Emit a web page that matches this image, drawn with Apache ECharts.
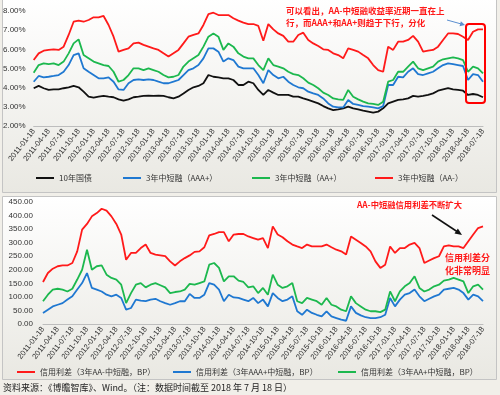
<!DOCTYPE html>
<html><head><meta charset="utf-8">
<script src="https://cdn.jsdelivr.net/npm/echarts@6/dist/echarts.min.js"></script>
<style>html,body{margin:0;padding:0;background:#f1efe9;}#c{width:500px;height:395px;}</style>
</head><body><div id="c"></div>
<script>
// monthly categories 2011-01-18 .. 2018-07-18
const categories = [];
for (let i = 0; i < 91; i++) {
  const y = 2011 + Math.floor(i / 12), m = i % 12 + 1;
  categories.push(y + '-' + String(m).padStart(2, '0') + '-18');
}
const yieldTicks = [2, 3, 4, 5, 6, 7, 8];
const spreadTicks = [0, 50, 100, 150, 200, 250, 300, 350, 400, 450];

// top panel: yields (%)
const gov10y = [3.97,4.09,3.97,3.88,3.91,3.91,3.97,4.02,4.09,4.02,
 3.79,3.53,3.48,3.53,3.57,3.53,3.50,3.39,3.32,3.39,
 3.50,3.53,3.57,3.58,3.57,3.58,3.57,3.50,3.44,3.53,
 3.70,3.88,4.02,4.09,4.23,4.66,4.57,4.54,4.49,4.49,
 4.40,4.14,4.14,4.31,4.23,3.88,3.62,3.88,3.74,3.62,
 3.62,3.62,3.53,3.53,3.44,3.36,3.27,3.18,3.04,2.92,
 2.83,2.87,2.92,3.01,2.92,2.87,2.80,2.75,2.70,2.75,
 2.92,3.18,3.27,3.36,3.39,3.44,3.57,3.53,3.57,3.62,
 3.70,3.84,3.91,3.97,3.91,3.88,3.84,3.62,3.67,3.62,3.50];
const aaaPlus = [4.31,4.61,4.54,4.57,4.61,4.66,4.83,5.18,5.70,5.79,
 5.01,4.83,4.66,4.49,4.49,4.54,4.31,3.91,3.88,4.23,
 4.40,4.43,4.40,4.43,4.40,4.31,4.23,4.23,4.31,4.40,
 4.66,4.92,5.01,5.18,5.53,6.05,6.05,5.88,5.36,5.53,
 5.44,5.10,5.01,5.01,5.01,4.66,4.23,4.92,4.66,4.49,
 4.57,4.31,4.14,4.02,3.97,3.79,3.70,3.62,3.44,3.18,
 3.01,2.97,2.97,3.36,3.15,3.10,3.04,3.01,2.97,2.92,
 3.04,4.14,4.14,4.57,4.54,4.83,5.01,4.71,4.66,4.75,
 4.83,5.01,5.18,5.27,5.23,5.18,5.13,4.40,4.71,4.66,4.31];
const aaPlus = [4.78,5.18,5.27,5.23,5.27,5.18,5.36,5.79,6.31,6.52,
 5.70,5.53,5.36,5.27,5.18,5.13,4.83,4.31,4.40,4.66,
 5.01,5.01,4.92,5.01,4.92,4.83,4.66,4.54,4.57,4.66,
 5.10,5.36,5.53,5.70,6.14,6.66,6.83,6.66,5.97,6.31,
 6.14,5.79,5.62,5.53,5.53,5.18,4.92,5.53,5.18,5.10,
 5.01,4.83,4.71,4.66,4.49,4.26,4.14,3.97,3.74,3.62,
 3.44,3.39,3.36,3.88,3.53,3.39,3.27,3.18,3.15,3.10,
 3.27,4.31,4.40,4.83,4.83,5.10,5.36,5.01,4.92,5.01,
 5.10,5.36,5.48,5.53,5.58,5.53,5.44,4.83,5.10,5.01,4.75];
const aaMinus = [5.44,5.79,5.93,5.97,6.00,5.97,6.14,6.75,7.44,7.50,
 7.44,7.53,7.67,7.67,7.74,7.27,6.66,5.88,5.97,6.05,
 6.31,6.35,6.23,6.14,6.05,5.97,5.79,5.62,5.79,5.97,
 6.31,6.66,6.75,6.83,7.27,7.84,7.91,7.79,7.79,7.79,
 7.62,7.50,7.39,7.32,7.32,7.22,6.45,7.32,7.04,6.83,
 6.70,6.40,6.40,6.75,6.87,6.49,6.31,6.17,6.00,5.97,
 5.79,5.70,5.53,6.05,5.97,5.88,5.70,5.53,5.18,4.92,
 4.83,6.14,5.97,6.40,6.40,6.49,6.70,6.40,5.88,5.93,
 5.97,6.14,6.49,6.83,6.83,6.80,6.66,6.49,6.92,7.04,7.04];

// bottom panel: credit spreads (BP)
const spreadAAMinus = [155,188,204,213,216,216,225,268,348,369,
 397,409,425,418,397,369,330,237,262,262,
 280,293,262,256,253,250,231,216,231,243,
 253,266,268,283,327,332,339,339,305,330,
 332,332,323,317,311,317,280,360,330,320,
 305,293,286,280,293,286,286,286,293,283,
 274,268,256,323,311,299,286,268,231,207,
 219,286,262,280,280,293,299,280,225,234,
 243,250,286,290,286,286,280,305,330,354,360];
const spreadAAAPlus = [41,53,65,71,77,90,102,127,151,188,
 133,127,120,108,102,108,96,53,59,90,
 86,84,90,93,84,77,71,77,84,84,
 111,96,96,108,151,145,127,84,108,98,
 96,90,84,96,77,90,65,114,96,84,
 90,102,47,34,53,41,34,28,47,28,
 22,16,12,65,41,32,25,22,22,25,
 34,96,65,90,108,114,127,102,84,93,
 102,108,127,130,133,127,114,90,108,102,84];
const spreadAAPlus = [84,108,127,130,127,120,130,164,200,274,
 200,213,216,182,170,164,145,77,114,145,
 151,135,145,151,143,135,114,118,120,127,
 148,145,151,157,219,225,207,157,176,176,
 160,155,135,139,114,133,108,182,145,133,
 139,151,84,77,96,90,84,71,96,71,
 65,53,47,102,77,65,53,47,47,44,
 53,120,84,120,139,151,176,133,120,127,
 139,145,160,164,170,164,157,114,139,145,127];

const topNames = ['10年国债','3年中短融（AAA+）','3年中短融（AA+）','3年中短融（AA-）'];
const botNames = ['信用利差（3年AA-中短融，BP）','信用利差（3年AAA+中短融，BP）','信用利差（3年AA+中短融，BP）'];
const C = {black:'#111111', blue:'#1f78d1', green:'#1cb84e', red:'#ff1a1a'};

const labelFont = 'Liberation Sans';
const cjk = '"Noto Sans CJK SC"';
const panelFill = {type:'linear',x:0,y:0,x2:0,y2:1,colorStops:[{offset:0,color:'#ffffff'},{offset:1,color:'#e9e8e2'}]};

function xAxis(gridIndex){
  return {type:'category', gridIndex, data:categories, boundaryGap:false,
    axisLine:{lineStyle:{color:'#bdbdbd',width:1}}, axisTick:{show:false},
    axisLabel:{interval:2, rotate:52, fontSize:7.6, color:'#333', fontFamily:labelFont, margin:4}};
}
function line(name, data, color, xi){
  return {name, type:'line', data, xAxisIndex:xi, yAxisIndex:xi, showSymbol:false,
    lineStyle:{width:1.8, color}, itemStyle:{color}, animation:false};
}
function legend(name, left, top){
  return {data:[name], left, top, icon:'rect', itemWidth:18, itemHeight:2, padding:0,
    textStyle:{fontSize:8, color:'#333', fontFamily:cjk}, selectedMode:false};
}

const option = {
  animation:false,
  graphic:[
    {type:'rect', shape:{x:2.5,y:-1,width:494,height:193.5}, style:{fill:panelFill, stroke:'#c4c4c4', lineWidth:1}, z:-10, silent:true},
    {type:'rect', shape:{x:2.5,y:196.5,width:494,height:183}, style:{fill:panelFill, stroke:'#c4c4c4', lineWidth:1}, z:-10, silent:true},
    {type:'text', x:286, y:11, style:{text:'可以看出，AA-中短融收益率近期一直在上', fill:'#ff1a1a', font:'bold 8.5px "Noto Sans CJK SC"', verticalAlign:'middle'}, z:50},
    {type:'text', x:286, y:22.5, style:{text:'行，而AAA+和AA+则趋于下行，分化', fill:'#ff1a1a', font:'bold 8.5px "Noto Sans CJK SC"', verticalAlign:'middle'}, z:50},
    {type:'line', shape:{x1:447,y1:20,x2:462,y2:24.2}, style:{stroke:'#5b8fd0', lineWidth:1}, z:50},
    {type:'polygon', shape:{points:[[465,25],[459.5,26.3],[460.9,21.3]]}, style:{fill:'#5b8fd0'}, z:50},
    {type:'rect', shape:{x:466,y:24,width:19,height:79,r:3}, style:{fill:'none', stroke:'#ff0000', lineWidth:2}, z:50},
    {type:'text', x:357, y:205, style:{text:'AA-中短融信用利差不断扩大', fill:'#ff1a1a', font:'bold 8.3px "Noto Sans CJK SC"', verticalAlign:'middle'}, z:50},
    {type:'line', shape:{x1:432,y1:215,x2:457,y2:231.5}, style:{stroke:'#111', lineWidth:1.5}, z:50},
    {type:'polygon', shape:{points:[[462,235],[454.5,233.6],[457.9,228.6]]}, style:{fill:'#111'}, z:50},
    {type:'text', x:445, y:258, style:{text:'信用利差分', fill:'#ff1a1a', font:'bold 9px "Noto Sans CJK SC"', verticalAlign:'middle'}, z:50},
    {type:'text', x:445, y:271, style:{text:'化非常明显', fill:'#ff1a1a', font:'bold 9px "Noto Sans CJK SC"', verticalAlign:'middle'}, z:50},
    {type:'text', x:3, y:388, style:{text:'资料来源：《博瞻智库》、Wind。（注：数据时间截至 2018 年 7 月 18 日）', fill:'#222', font:'9px "Noto Sans CJK SC"', verticalAlign:'middle'}, z:50}
  ],
  legend:[
    legend(topNames[0], 36, 174), legend(topNames[1], 123, 174),
    legend(topNames[2], 252, 174), legend(topNames[3], 375, 174),
    legend(botNames[0], 17, 368), legend(botNames[1], 173, 368), legend(botNames[2], 338, 368)
  ],
  grid:[
    {left:33, top:11, width:450, height:115},
    {left:43, top:202, width:440, height:122}
  ],
  xAxis:[xAxis(0), xAxis(1)],
  yAxis:[
    {type:'value', gridIndex:0, min:yieldTicks[0], max:yieldTicks[yieldTicks.length-1], interval:1,
      splitLine:{show:false}, axisLine:{show:false}, axisTick:{show:false},
      axisLabel:{formatter:v=>v.toFixed(2)+'%', fontSize:8, color:'#333', fontFamily:labelFont, margin:8}},
    {type:'value', gridIndex:1, min:spreadTicks[0], max:spreadTicks[spreadTicks.length-1], interval:50,
      splitLine:{show:false}, axisLine:{show:false}, axisTick:{show:false},
      axisLabel:{formatter:v=>v.toFixed(2), fontSize:8, color:'#333', fontFamily:labelFont, margin:10}}
  ],
  series:[
    line(topNames[0], gov10y, C.black, 0),
    line(topNames[1], aaaPlus, C.blue, 0),
    line(topNames[2], aaPlus, C.green, 0),
    line(topNames[3], aaMinus, C.red, 0),
    line(botNames[0], spreadAAMinus, C.red, 1),
    line(botNames[1], spreadAAAPlus, C.blue, 1),
    line(botNames[2], spreadAAPlus, C.green, 1)
  ]
};
const chart = echarts.init(document.getElementById('c'), null, {renderer:'canvas'});
chart.setOption(option);
</script></body></html>
